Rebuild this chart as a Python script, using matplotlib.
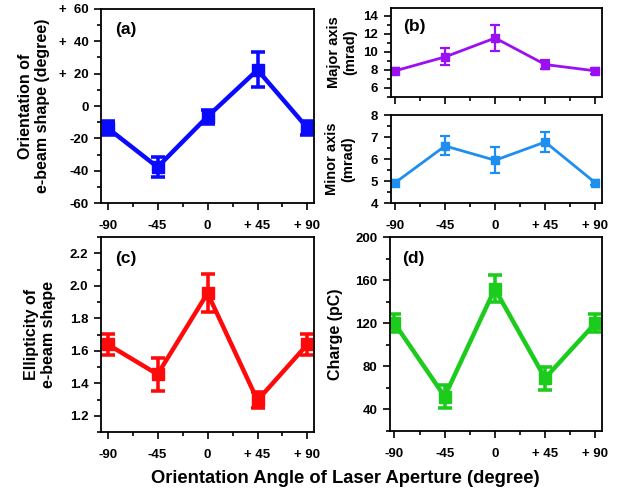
import numpy as np
import matplotlib.pyplot as plt
from matplotlib.ticker import MultipleLocator

plt.rcParams['font.family'] = ['Liberation Sans', 'DejaVu Sans']
plt.rcParams['font.weight'] = 'bold'

angles = [-90, -45, 0, 45, 90]
angle_labels = ['-90', '-45', '0', '+ 45', '+ 90']

orient = [-13.6, -37.7, -6.5, 22.3, -13.6]
orient_err = [4.2, 6.2, 4.3, 10.8, 4.2]

major = [7.9, 9.45, 11.55, 8.6, 7.9]
major_err = [0.3, 0.95, 1.45, 0.5, 0.3]

minor = [4.93, 6.6, 5.95, 6.78, 4.93]
minor_err = [0.12, 0.43, 0.6, 0.47, 0.12]

ellip = [1.64, 1.455, 1.955, 1.295, 1.64]
ellip_err = [0.063, 0.102, 0.115, 0.05, 0.063]

charge = [120, 52, 152, 69, 120]
charge_err = [8.5, 10.5, 12.5, 10.5, 8.5]

fig = plt.figure(figsize=(6.27, 4.92), dpi=100)

ax_a = fig.add_axes([0.161, 0.587, 0.340, 0.395])
ax_b1 = fig.add_axes([0.623, 0.803, 0.337, 0.181])
ax_b2 = fig.add_axes([0.623, 0.587, 0.337, 0.179])
ax_c = fig.add_axes([0.161, 0.122, 0.340, 0.396])
ax_d = fig.add_axes([0.622, 0.124, 0.338, 0.394])


def draw(ax, y, err, color, lw, ms, cap):
    ax.errorbar(angles, y, yerr=err, color=color, lw=lw, marker='s', ms=ms,
                capsize=cap, capthick=lw * 0.8, elinewidth=lw * 0.8)
    ax.set_xticks(angles)
    ax.set_xticklabels(angle_labels)
    ax.xaxis.set_minor_locator(MultipleLocator(22.5))
    ax.tick_params(which='both', direction='out', width=1.2, labelsize=9.5)
    ax.tick_params(which='major', length=5)
    ax.tick_params(which='minor', length=3)
    ax.tick_params(axis='x', which='major', pad=7)
    ax.tick_params(axis='y', which='major', pad=4)
    for s in ax.spines.values():
        s.set_linewidth(1.3)


draw(ax_a, orient, orient_err, '#0a0aff', 3.2, 8, 5)
ax_a.set_xlim(-96, 96)
ax_a.set_ylim(-60, 60)
ax_a.set_yticks([-60, -40, -20, 0, 20, 40, 60])
ax_a.set_yticklabels(['-60', '-40', '-20', '0', '+  20', '+  40', '+  60'])
ax_a.yaxis.set_minor_locator(MultipleLocator(10))
ax_a.set_ylabel('Orientation of\ne-beam shape (degree)', fontsize=11.5, fontweight='bold',
                labelpad=6)
ax_a.text(0.066, 0.93, '(a)', transform=ax_a.transAxes, fontsize=12.5, fontweight='bold', va='top')

draw(ax_b1, major, major_err, '#9a10f0', 2.0, 6, 3.5)
ax_b1.set_xlim(-94, 96)
ax_b1.set_ylim(5, 14.9)
ax_b1.set_yticks([6, 8, 10, 12, 14])
ax_b1.yaxis.set_minor_locator(MultipleLocator(1))
ax_b1.set_xticklabels([])
ax_b1.set_ylabel('Major axis\n(mrad)', fontsize=10.5, fontweight='bold', labelpad=4)
ax_b1.text(0.057, 0.88, '(b)', transform=ax_b1.transAxes, fontsize=12.5, fontweight='bold', va='top')

draw(ax_b2, minor, minor_err, '#1e8ff0', 2.0, 6, 3.5)
ax_b2.set_xlim(-94, 96)
ax_b2.set_ylim(4, 8)
ax_b2.set_yticks([4, 5, 6, 7, 8])
ax_b2.yaxis.set_minor_locator(MultipleLocator(0.5))
ax_b2.set_ylabel('Minor axis\n(mrad)', fontsize=10.5, fontweight='bold', labelpad=11)

draw(ax_c, ellip, ellip_err, '#ff0a0a', 3.2, 8, 5)
ax_c.set_xlim(-96, 96)
ax_c.set_ylim(1.1, 2.3)
ax_c.set_yticks([1.2, 1.4, 1.6, 1.8, 2.0, 2.2])
ax_c.yaxis.set_minor_locator(MultipleLocator(0.1))
ax_c.set_ylabel('Ellipticity of\ne-beam shape', fontsize=11.5, fontweight='bold',
                labelpad=10)
ax_c.text(0.066, 0.93, '(c)', transform=ax_c.transAxes, fontsize=12.5, fontweight='bold', va='top')

draw(ax_d, charge, charge_err, '#1ccc1c', 3.2, 8, 5)
ax_d.set_xlim(-94, 96)
ax_d.set_ylim(20, 200)
ax_d.set_yticks([40, 80, 120, 160, 200])
ax_d.yaxis.set_minor_locator(MultipleLocator(20))
ax_d.set_ylabel('Charge (pC)', fontsize=11.5, fontweight='bold', labelpad=9)
ax_d.text(0.057, 0.93, '(d)', transform=ax_d.transAxes, fontsize=12.5, fontweight='bold', va='top')

fig.text(0.55, 0.027, 'Orientation Angle of Laser Aperture (degree)',
         ha='center', va='center', fontsize=13.2, fontweight='bold')

fig.savefig('out.png', dpi=100)
